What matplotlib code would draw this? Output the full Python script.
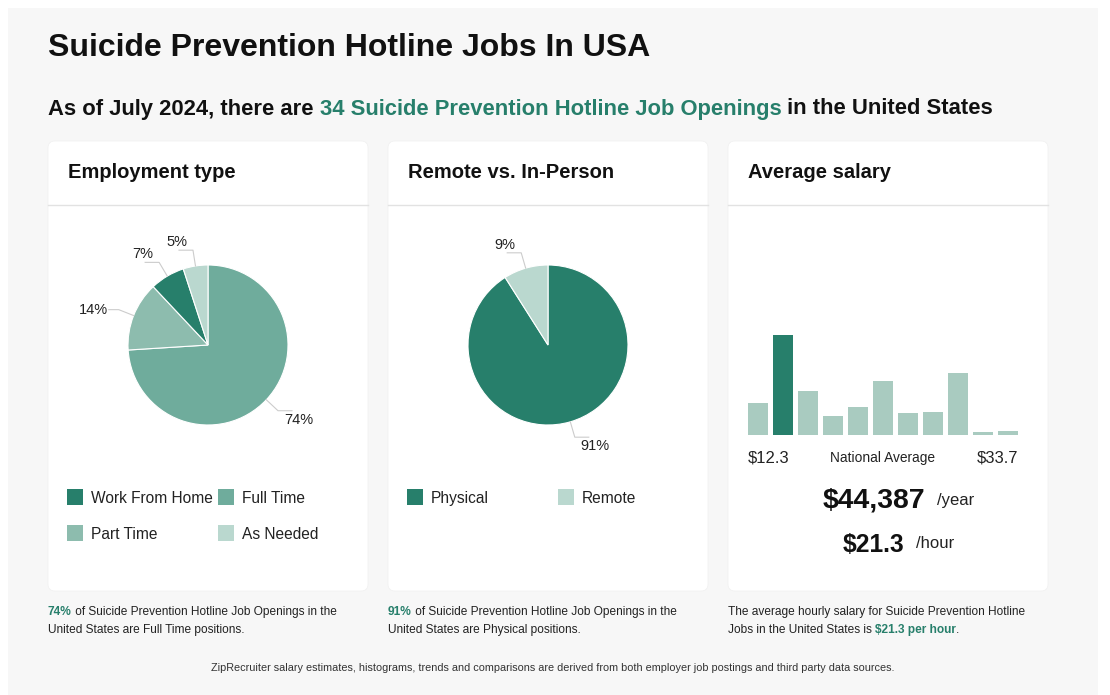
import numpy as np
import matplotlib
matplotlib.use('Agg')
import matplotlib.pyplot as plt
from matplotlib.patches import FancyBboxPatch, Rectangle

plt.rcParams['font.family'] = ['Liberation Sans', 'DejaVu Sans']

W, H = 1110, 695
GREEN = '#277f6b'

# data
emp_labels = ['Full Time', 'Part Time', 'Work From Home', 'As Needed']
emp_values = [74, 14, 7, 5]
emp_colors = ['#6fac9c', '#8dbcae', '#277f6b', '#bad8cf']
emp_legend = ['Work From Home', 'Full Time', 'Part Time', 'As Needed']

rem_labels = ['Physical', 'Remote']
rem_values = [91, 9]
rem_colors = ['#277f6b', '#bad8cf']

hist_heights = [32, 100, 44, 19, 28, 54, 22, 23, 62, 3, 4]
hist_highlight = 1
salary_low = '$12.3'
salary_high = '$33.7'
salary_year = '$44,387'
salary_hour = '$21.3'


def px_axes(fig, x0, y0, w, h):
    # axes from pixel box (top-left origin)
    return fig.add_axes([x0 / W, (H - y0 - h) / H, w / W, h / H])


def rich(ax, x, y, parts, renderer, **kw):
    for s, props in parts:
        t = ax.text(x, y, s, **kw, **props)
        bb = t.get_window_extent(renderer)
        x += bb.width


def pie_panel(fig, cx, cy, values, colors):
    r = 80
    ax = px_axes(fig, cx - 130, cy - 130, 260, 260)
    ax.pie(values, colors=colors, radius=r, startangle=90, counterclock=False,
           wedgeprops=dict(linewidth=0.8, edgecolor='white'))
    ax.set_xlim(-130, 130)
    ax.set_ylim(-130, 130)
    ax.set_aspect('equal')
    ax.axis('off')
    total = sum(values)
    start = 0
    for v in values:
        mid = np.radians((start + v / 2) / total * 360)
        start += v
        dx, dy = np.sin(mid), np.cos(mid)
        side = 1 if dx > 0 else -1
        ex, ey = r * dx, r * dy
        bx, by = (r + 16) * dx, (r + 16) * dy
        if abs(dy) < 0.5:
            endx = bx + side * 10
            ax.plot([ex, bx, endx], [ey, by, by], color='#cccccc', lw=0.8)
            ax.text(endx + side * 1, by, f'{v}%', fontsize=10.5,
                    ha='left' if side > 0 else 'right', va='center', color='#222222')
        else:
            endx = bx + side * 14
            ax.plot([ex, bx, endx], [ey, by, by], color='#cccccc', lw=0.8)
            ax.text(bx + side * 6, by + (8 if dy > 0 else -9), f'{v}%', fontsize=10.5,
                    ha='left' if side > 0 else 'right', va='center', color='#222222')
    return ax


def main():
    fig = plt.figure(figsize=(W / 100, H / 100), dpi=100)
    ax = fig.add_axes([0, 0, 1, 1])
    ax.set_xlim(0, W)
    ax.set_ylim(H, 0)
    ax.axis('off')
    renderer = fig.canvas.get_renderer()

    ax.add_patch(Rectangle((8, 8), 1090, 695, facecolor='#f7f7f7', edgecolor='none'))

    ax.text(48, 48, 'Suicide Prevention Hotline Jobs In USA', fontsize=23,
            fontweight='bold', va='center', color='#111111')
    rich(ax, 48, 109, [('As of July 2024, there are ', {'color': '#111111'}),
                       ('34 Suicide Prevention Hotline Job Openings', {'color': GREEN}),
                       (' in the United States', {'color': '#111111'})],
         renderer, fontsize=15.8, fontweight='bold', va='center')

    titles = ['Employment type', 'Remote vs. In-Person', 'Average salary']
    for i, x0 in enumerate([48, 388, 728]):
        ax.add_patch(FancyBboxPatch((x0, 141), 320, 450, boxstyle='round,pad=0,rounding_size=7',
                                    facecolor='white', edgecolor='#f0f0f0', lw=0.5))
        ax.plot([x0, x0 + 320], [204.5, 204.5], color='#e2e2e2', lw=1)
        ax.text(x0 + 20, 172, titles[i], fontsize=14.5, fontweight='bold', va='center',
                color='#111111')

    # pies
    pie_panel(fig, 208, 345, emp_values, emp_colors)
    pie_panel(fig, 548, 345, rem_values, rem_colors)

    # legends
    col_x = [67, 218]
    for k, lab in enumerate(emp_legend):
        x = col_x[k % 2]
        y = 497 + 36 * (k // 2)
        ax.add_patch(Rectangle((x, y - 8), 16, 16, facecolor=emp_colors[emp_labels.index(lab)],
                               edgecolor='none'))
        ax.text(x + 24, y, lab, fontsize=11.2, va='center_baseline', color='#222222')
    for k, lab in enumerate(rem_labels):
        x = [407, 558][k]
        ax.add_patch(Rectangle((x, 489), 16, 16, facecolor=rem_colors[k], edgecolor='none'))
        ax.text(x + 24, 497, lab, fontsize=11.2, va='center_baseline', color='#222222')

    # histogram
    hax = px_axes(fig, 748, 335, 270, 100)
    colors = ['#a9cbc0'] * len(hist_heights)
    colors[hist_highlight] = GREEN
    hax.bar(np.arange(len(hist_heights)), hist_heights, width=0.8, color=colors)
    hax.set_xlim(-0.4, len(hist_heights) - 0.6)
    hax.set_ylim(0, max(hist_heights))
    hax.axis('off')

    ax.text(748, 458, salary_low, fontsize=12, va='center', color='#222222')
    ax.text(1018, 458, salary_high, fontsize=12, va='center', ha='right', color='#222222')
    ax.text(883, 458, 'National Average', fontsize=9.9, va='center', ha='center', color='#222222')
    ax.text(925, 500, salary_year, fontsize=20.4, fontweight='bold', va='center', ha='right',
            color='#111111')
    ax.text(937, 500, '/year', fontsize=12, va='center', color='#222222')
    ax.text(904, 545, salary_hour, fontsize=17.7, fontweight='bold', va='center', ha='right',
            color='#111111')
    ax.text(916, 544, '/hour', fontsize=12, va='center', color='#222222')

    # footnotes
    fs = 8.6
    rich(ax, 48, 612, [('74%', {'color': GREEN, 'fontweight': 'bold'}),
                       (' of Suicide Prevention Hotline Job Openings in the', {'color': '#222222'})],
         renderer, fontsize=fs, va='center')
    ax.text(48, 630, 'United States are Full Time positions.', fontsize=fs, va='center',
            color='#222222')
    rich(ax, 388, 612, [('91%', {'color': GREEN, 'fontweight': 'bold'}),
                        (' of Suicide Prevention Hotline Job Openings in the', {'color': '#222222'})],
         renderer, fontsize=fs, va='center')
    ax.text(388, 630, 'United States are Physical positions.', fontsize=fs, va='center',
            color='#222222')
    ax.text(728, 612, 'The average hourly salary for Suicide Prevention Hotline', fontsize=fs,
            va='center', color='#222222')
    rich(ax, 728, 630, [('Jobs in the United States is ', {'color': '#222222'}),
                        ('$21.3 per hour', {'color': GREEN, 'fontweight': 'bold'}),
                        ('.', {'color': '#222222'})],
         renderer, fontsize=fs, va='center')

    ax.text(553, 668, 'ZipRecruiter salary estimates, histograms, trends and comparisons are derived '
            'from both employer job postings and third party data sources.',
            fontsize=7.85, ha='center', va='center', color='#333333')

    fig.savefig('out.png', dpi=100, facecolor='white')


if __name__ == '__main__':
    main()
